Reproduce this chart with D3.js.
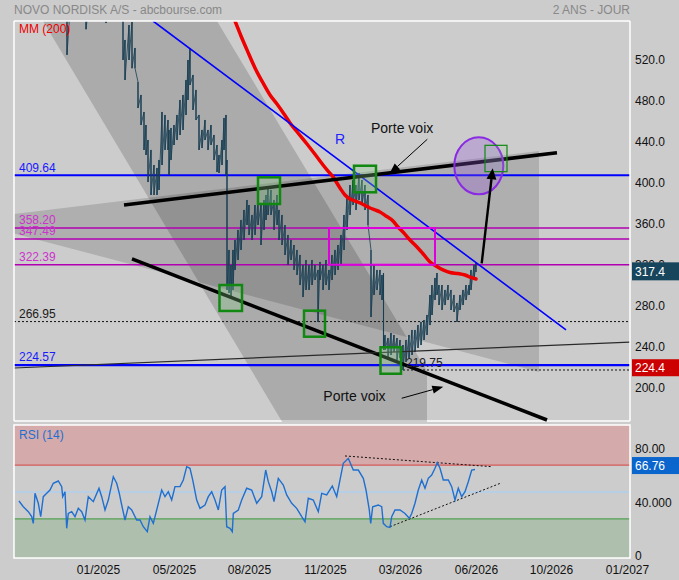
<!DOCTYPE html>
<html>
<head>
<meta charset="utf-8">
<script src="https://cdn.jsdelivr.net/npm/d3@7"></script>
<style>
  body { margin: 0; background: #cccccc; }
  svg { display: block; font-family: "Liberation Sans", Arial, sans-serif; }
</style>
</head>
<body>
<div id="chart"></div>
<script>
// ---- data (day index = trading session, prices in DKK) ----
const priceDay = [1,6,11,16,20,24,28,33,38,43, 48,53,57,62,67,72,76,81,86,89,
  92,96,100,104,107,109,111,115,118,121, 124,127,130,132,134,137,140,143,145,148,
  151,154,155,157,160,163,166,169,172,174, 176,179,182,185,188,191,194,197,200,203,
  205,208,210,212,213,215,217,219,221,224, 227,230,233,235,238,241,244,247,250,252,
  254,257,260,263,265,268,271,274,277,280, 283,286,289,292,295,298,301,304,306,309,
  312,315,318,321,324,327,330,333,336,339, 342,345,348,351,354,357,360,363,366,368,
  369.5,371,374,377,380,383,386,389,392,395, 398,401,404,407,410,413,416,418,421,423,
  425,428,431,434,437,440,443,446,449,452, 455,457,460,462];
const priceHigh = [600,598,594,588,596,592,598,603,607,610, 604,590,586,582,580,575,585,590,595,585,
  575,586,596,590,578,560,541.5,556,559,533.7, 500.6,487.9,471.3,458.6,444,434.3,419.6,416.7,424.5,471.3,
  468.4,463.5,453.8,455.7,458.6,468.4,483,487.9,502.5,522, 533.7,507.4,492.8,468.4,453.8,463.5,453.8,458.6,448.9,439.1,
  429.4,444,465.5,468.4,424.5,336.8,322.1,336.8,346.5,356.3, 366,375.8,385.5,380.6,370.9,380.6,385.5,380.6,385.5,390.4,
  398.2,395.3,385.5,390.4,375.8,370.9,361.1,351.4,346.5,341.6, 336.8,331.9,322.1,327,322.1,327,322.1,317.3,325.1,322.1,
  327,317.3,331.9,336.8,341.6,351.4,370.9,390.4,400.1,405, 400.1,411.8,405,400.1,390.4,336.8,322.1,317.3,317.3,312.4,
  314.3,253.9,250.9,255.8,253.9,250.9,249,244.1,249,253.9, 258.8,258.8,263.6,266.6,268.5,273.4,292.9,302.6,309.5,314.3,
  302.6,302.6,297.8,302.6,297.8,292.9,285.1,292.9,297.8,302.6, 302.6,317.3,322.1,324.1];
const priceLow = [585,582,578,572,580,576,582,588,592,594, 584,527,568,565,562,552,570,575,578,568,
  558,566,575,570,562,522,502.5,522,514,514, 475.2,458.6,434.3,429.4,403,390.4,390.4,390.4,395.3,419.6,
  434.3,434.3,409.9,424.5,439.1,444,448.9,453.8,468.4,483, 497.6,473.3,463.5,434.3,436.2,444,434.3,439.1,424.5,412.8,
  411.8,419.6,434.3,409.9,297.8,294.8,290.9,297.8,317.3,327, 336.8,346.5,361.1,351.4,346.5,351.4,361.1,341.6,356.3,366,
  370.9,370.9,356.3,361.1,346.5,341.6,331.9,322.1,327,317.3, 312.4,302.6,290.9,297.8,297.8,302.6,307.5,266.6,307.5,297.8,
  302.6,297.8,307.5,312.4,317.3,322.1,336.8,356.3,370.9,380.6, 375.8,385.5,380.6,375.8,361.1,271.4,292.9,297.8,292.9,288,
  239.3,239.3,231.5,234.4,237.3,229.5,231.5,219.75,227.6,231.5, 234.4,237.3,241.2,244.1,249,253.9,263.6,273.4,288,292.9,
  283.1,278.3,283.1,288,278.3,276.3,266.6,278.3,283.1,288, 292.9,297.8,307.5,315.3];

// moving average 200 sessions
const maDay = [206,214,221,227,233,241,249,256,263,270, 276,284,293,300,306,313,319,326,331,336,
  341,346,351,356,361,366,372,379,384,389, 396,403,410,416,422,429,436,444,451,457, 462];
const maValue = [580.3,575.6,560,545.4,531.8,514.2,499.6,487.9,479.1,469.4, 460.6,450.8,440.1,431.3,423.5,414.8,408,397.2,390.4,386.5,
  384.5,382.6,380.1,377.7,375.8,373.8,369.9,365,359.2,354.3, 346.5,339.7,331.9,325.1,321.2,317.3,314.8,313.8,312.4,310,
  308.5];

// RSI(14)
const rsiDay = [5,9.3,14.3,17.7,19.3,21,24.3,26.7,29.3,32.7, 36,39.3,44.3,47.7,48.7,51,52.7,54.3,57.7,61,
  64.3,67.7,71,74.3,79.3,85,87.7,91,94.3,99.3, 102.7,105.3,107.7,111,114.3,117.7,122.7,126,129.3,133.3,
  136,139.3,142.7,147.7,151,154.3,157.7,161,166,169.3, 172.7,176,178.7,182.7,186,191,194.3,197.7,201,204.3,
  207.7,211,212.7,216,218.3,219.3,224.3,227.7,232.7,237.7, 242.7,247.7,251.7,254.3,257.7,260,264.3,269.3,272.7,277.7,
  282.7,287.7,291,294.3,299.3,304.3,307.7,312.7,318.3,322.7, 326,329.3,334.3,339.3,344.3,349.3,352,355.3,356.7,358.7,
  364.3,367.7,369.3,372.7,376,377.7,381,386,391,395.3, 397.7,401,404.3,407.7,411,414.3,417.7,421,423.3,426,
  429.3,434.3,437.7,441,444.3,447.7,451,454.3,457.7,461];
const rsiValue = [43.3,39,35.3,31.6,26.6,49,41.6,31.6,46.5,49, 51.5,56.5,58.2,54,46.5,50.2,22.9,34,35.3,31.6,
  37.8,35.3,29.1,46.5,42.8,52.8,46.5,36.6,44,61.4, 56.5,49,40.3,29.1,39,36.6,29.1,29.1,24.1,20.4,
  31.6,26.6,36.6,51.5,46.5,50.2,44,54,54,59, 68.9,67.7,59,44,37.8,40.3,46.5,50.2,44,36.6,
  51.5,54,24.1,22.9,20.4,34,36.6,44,52.8,51.5, 41.6,46.5,66.4,57.7,50.2,42.8,60.2,55.2,47.8,41.6,
  37.8,31.6,27.8,45.3,44,35.3,49,47.8,54.5,46.5, 59,71.4,75.1,66.4,66.4,60.2,51.5,36.6,26.6,39,
  40.3,39,26.6,24.1,23.6,31.6,36.6,36.6,34,30.4, 34,41.6,51.5,59,52.8,60.2,62.7,67.7,71.9,67.7,
  59,59,54,44,52.8,46.5,50.2,57.7,66.4,66.76];

// horizontal levels
const levelValues = [409.64, 358.20, 347.49, 322.39, 266.95, 224.57];
const levelLabels = ["409.64", "358.20", "347.49", "322.39", "266.95", "224.57"];
const levelKinds = ["blue", "magenta", "magenta", "magenta", "dotted", "blue"];
const lowDay = 389, lowValue = 219.75;

// trend lines [day, price]
const trendNames = ["R", "porteHaut", "porteBas", "support"];
const trendFrom = [[139, 560.0], [110, 380.6], [118, 328.0], [0, 221.7]];
const trendTo = [[552, 258.8], [543, 431.6], [533, 171.0], [616, 247.0]];

// shaded zones: parallel channel and megaphone (porte voix)
const channelPts = [[0, 607.4], [0, 889.8], [413, 218.8], [413, -67.6]];
const wedgePts = [[-51, 366], [525, 433.3], [525, 217.8]];

// boxes [day0, day1, priceTop, priceBottom]
const greenBoxes = [[244, 266, 407.6, 381.6], [340, 362, 418.9, 393.0], [205.5, 228, 302.6, 277.3],
  [290, 311, 277.6, 252.2], [366.5, 387, 241.9, 216.1], [471, 493, 438.8, 413.1]];
const greenKinds = ["fill", "fill", "fill", "grey", "fill", "thin"];
const zoneBox = [315, 421, 358.20, 322.39];
const target = { day: 464.8, price: 418.8, dDays: 24.5, dPrice: 27.8 };

// arrows [day, price]
const arrowFrom = [[413.3, 444.7], [467.7, 323.8], [387.7, 192.2]];
const arrowTo = [[375.3, 410.9], [478.7, 416.4], [429.3, 203.5]];
const arrowKinds = ["thin", "bold", "thin"];

const noteTexts = ["Porte voix", "Porte voix", "R"];
const noteDay = [357, 309.3, 321];
const notePrice = [455.4, 194.7, 445.0];

// RSI trend lines [day, rsi]
const rsiTrendFrom = [[331, 76.9], [376, 24.1]];
const rsiTrendTo = [[477.7, 68.9], [487.7, 56.9]];
const rsiLevels = [70, 50, 30];

// axes
const priceTicks = [200, 240, 280, 320, 360, 400, 440, 480, 520];
const rsiTicks = [0, 40, 80];
const rsiTickLabels = ["0", "40.000", "80.00"];
const xTickDays = [84, 160, 235, 311, 386, 462, 537, 613];
const xTickLabels = ["01/2025", "05/2025", "08/2025", "11/2025", "03/2026", "06/2026", "10/2026", "01/2027"];

const lastPrice = 317.4, lastRed = 224.4, lastRsi = 66.76;

// ---- drawing ----
const W = 679, H = 580;
const L = 14, R = 630, T = 21, B = 421, RT = 425, RB = 558;

const x = d3.scaleLinear().domain([0, 616]).range([L, R]);
const y = d3.scaleLinear().domain([171, 560]).range([420, T]);
const yR = d3.scaleLinear().domain([0, 100]).range([559, RT]);

const svg = d3.select("#chart").append("svg").attr("width", W).attr("height", H);
svg.append("rect").attr("width", W).attr("height", H).attr("fill", "#cccccc");

const defs = svg.append("defs");
defs.append("clipPath").attr("id", "clipMain").append("rect")
  .attr("x", L).attr("y", T).attr("width", R - L).attr("height", B - T + 1);
defs.append("clipPath").attr("id", "clipRsi").append("rect")
  .attr("x", L).attr("y", RT).attr("width", R - L).attr("height", RB - RT);

// bottom border of main panel (covered by the channel)
svg.append("line").attr("x1", L).attr("x2", R).attr("y1", B).attr("y2", B)
  .attr("stroke", "#fff").attr("stroke-width", 1.5);

const g = svg.append("g").attr("clip-path", "url(#clipMain)");

const poly = pts => pts.map(p => x(p[0]) + "," + y(p[1])).join(" ");
g.append("polygon").attr("points", poly(channelPts)).attr("fill", "rgba(0,0,0,0.16)");
g.append("polygon").attr("points", poly(wedgePts)).attr("fill", "rgba(0,0,0,0.14)");

// horizontal levels
const levelColor = { blue: "#0000ff", magenta: "#b000b0", dotted: "#111" };
const labelColor = { blue: "#1a1aff", magenta: "#cc33cc", dotted: "#1a1a1a" };
levelValues.forEach((v, i) => {
  const k = levelKinds[i];
  g.append("line").attr("x1", L).attr("x2", R).attr("y1", y(v)).attr("y2", y(v))
    .attr("stroke", levelColor[k])
    .attr("stroke-width", k === "blue" ? 2.2 : (k === "magenta" ? 1.5 : 1))
    .attr("stroke-dasharray", k === "dotted" ? "2,2" : null);
  g.append("text").attr("x", L + 5).attr("y", y(v) - 3.7).attr("font-size", 12)
    .attr("fill", labelColor[k]).text(levelLabels[i]);
});
g.append("line").attr("x1", x(lowDay)).attr("x2", R).attr("y1", y(lowValue)).attr("y2", y(lowValue))
  .attr("stroke", "#111").attr("stroke-width", 1).attr("stroke-dasharray", "2,2");

// price bars
const zig = [];
priceDay.forEach((d, i) => { zig.push([d, priceHigh[i]]); zig.push([d, priceLow[i]]); });
g.append("path").datum(zig)
  .attr("d", d3.line().x(d => x(d[0])).y(d => y(d[1])))
  .attr("fill", "none").attr("stroke", "#163d52").attr("stroke-width", 0.8);
g.selectAll("line.bar").data(priceDay).join("line").attr("class", "bar")
  .attr("x1", d => x(d)).attr("x2", d => x(d))
  .attr("y1", (d, i) => y(priceHigh[i])).attr("y2", (d, i) => y(priceLow[i]))
  .attr("stroke", "#163d52").attr("stroke-width", 1.1);

// MM 200
g.append("path").datum(maDay.map((d, i) => [d, maValue[i]]))
  .attr("d", d3.line().x(d => x(d[0])).y(d => y(d[1])).curve(d3.curveMonotoneX))
  .attr("fill", "none").attr("stroke", "#ee0000").attr("stroke-width", 3.5)
  .attr("stroke-linecap", "round").attr("stroke-linejoin", "round");

// trend lines
const trendStyle = {
  R: ["#0000ff", 1.6], porteHaut: ["#000", 3.5], porteBas: ["#000", 3.5], support: ["#2a2a2a", 1.2]
};
trendNames.forEach((n, i) => {
  g.append("line")
    .attr("x1", x(trendFrom[i][0])).attr("y1", y(trendFrom[i][1]))
    .attr("x2", x(trendTo[i][0])).attr("y2", y(trendTo[i][1]))
    .attr("stroke", trendStyle[n][0]).attr("stroke-width", trendStyle[n][1]);
});

// zone rectangle
g.append("rect").attr("x", x(zoneBox[0])).attr("y", y(zoneBox[2]))
  .attr("width", x(zoneBox[1]) - x(zoneBox[0])).attr("height", y(zoneBox[3]) - y(zoneBox[2]))
  .attr("fill", "none").attr("stroke", "#dd00dd").attr("stroke-width", 2);

// target ellipse
g.append("ellipse").attr("cx", x(target.day)).attr("cy", y(target.price))
  .attr("rx", x(target.day + target.dDays) - x(target.day))
  .attr("ry", y(target.price - target.dPrice) - y(target.price))
  .attr("fill", "rgba(150,90,220,0.3)").attr("stroke", "#8a2be2").attr("stroke-width", 2);

// green boxes
greenBoxes.forEach((b, i) => {
  const k = greenKinds[i];
  g.append("rect").attr("x", x(b[0])).attr("y", y(b[2]))
    .attr("width", x(b[1]) - x(b[0])).attr("height", y(b[3]) - y(b[2]))
    .attr("fill", k === "grey" ? "rgba(0,0,0,0.07)" : (k === "thin" ? "rgba(140,210,140,0.15)" : "rgba(140,210,140,0.3)"))
    .attr("stroke", "#118811").attr("stroke-width", k === "thin" ? 1.2 : 2.5);
});

// arrows
arrowFrom.forEach((f, i) => {
  const bold = arrowKinds[i] === "bold";
  const lw = bold ? 2.4 : 1, hl = 11, hw = bold ? 10 : 8;
  const x1 = x(f[0]), y1 = y(f[1]), x2 = x(arrowTo[i][0]), y2 = y(arrowTo[i][1]);
  const a = Math.atan2(y2 - y1, x2 - x1);
  const bx = x2 - hl * Math.cos(a), by = y2 - hl * Math.sin(a);
  const px = -Math.sin(a) * hw / 2, py = Math.cos(a) * hw / 2;
  g.append("line").attr("x1", x1).attr("y1", y1).attr("x2", bx).attr("y2", by)
    .attr("stroke", "#000").attr("stroke-width", lw);
  g.append("polygon").attr("points", [[x2, y2], [bx + px, by + py], [bx - px, by - py]].map(p => p.join(",")).join(" "))
    .attr("fill", "#000");
});

// notes
noteTexts.forEach((t, i) => {
  g.append("text").attr("x", x(noteDay[i])).attr("y", y(notePrice[i])).attr("dy", "0.35em")
    .attr("font-size", 14).attr("fill", t === "R" ? "#2222ff" : "#111").text(t);
});
g.append("text").attr("x", x(lowDay) + 3).attr("y", y(lowValue) - 2.5).attr("font-size", 12)
  .attr("fill", "#222").text(lowValue.toFixed(2));

g.append("text").attr("x", L + 5).attr("y", 33).attr("font-size", 12).attr("fill", "#ee0000").text("MM (200)");

// main borders
[[L, T, R, T], [L, T, L, B], [R, T, R, B]].forEach(s => {
  svg.append("line").attr("x1", s[0]).attr("y1", s[1]).attr("x2", s[2]).attr("y2", s[3])
    .attr("stroke", "#fff").attr("stroke-width", 1.5);
});

// ---- RSI panel ----
const gr = svg.append("g").attr("clip-path", "url(#clipRsi)");
gr.append("rect").attr("x", L).attr("width", R - L).attr("y", yR(100)).attr("height", yR(70) - yR(100)).attr("fill", "#d4aaaa");
gr.append("rect").attr("x", L).attr("width", R - L).attr("y", yR(30)).attr("height", yR(0) - yR(30)).attr("fill", "#aebfad");
const rsiLevelColor = ["#d45a5a", "#a0d0ff", "#55a055"];
rsiLevels.forEach((v, i) => {
  gr.append("line").attr("x1", L).attr("x2", R).attr("y1", yR(v)).attr("y2", yR(v))
    .attr("stroke", rsiLevelColor[i]).attr("stroke-width", 1.2);
});
rsiTrendFrom.forEach((f, i) => {
  gr.append("line").attr("x1", x(f[0])).attr("y1", yR(f[1]))
    .attr("x2", x(rsiTrendTo[i][0])).attr("y2", yR(rsiTrendTo[i][1]))
    .attr("stroke", "#111").attr("stroke-width", 1).attr("stroke-dasharray", "2,2");
});
gr.append("path").datum(rsiDay.map((d, i) => [d, rsiValue[i]]))
  .attr("d", d3.line().x(d => x(d[0])).y(d => yR(d[1])))
  .attr("fill", "none").attr("stroke", "#1e6fd0").attr("stroke-width", 1.4);
gr.append("text").attr("x", L + 5).attr("y", 438.5).attr("font-size", 12).attr("fill", "#1e6fd0").text("RSI (14)");
svg.append("rect").attr("x", L).attr("y", RT).attr("width", R - L).attr("height", RB - RT)
  .attr("fill", "none").attr("stroke", "#fff").attr("stroke-width", 1.5);

// ---- axes ----
const ya = svg.append("g").attr("transform", "translate(" + R + ",0)")
  .call(d3.axisRight(y).tickValues(priceTicks).tickFormat(d3.format(".1f")).tickSize(0).tickPadding(5));
const yra = svg.append("g").attr("transform", "translate(" + R + ",0)")
  .call(d3.axisRight(yR).tickValues(rsiTicks).tickFormat((d, i) => rsiTickLabels[i]).tickSize(0).tickPadding(5));
const xa = svg.append("g").attr("transform", "translate(0," + RB + ")")
  .call(d3.axisBottom(x).tickValues(xTickDays).tickFormat((d, i) => xTickLabels[i]).tickSize(0).tickPadding(7));
[ya, yra, xa].forEach(a => {
  a.select(".domain").remove();
  a.selectAll("text").attr("font-size", 12).attr("fill", "#111")
    .attr("font-family", "Liberation Sans, Arial, sans-serif");
});
ya.selectAll("text").attr("dy", "0.12em");
yra.selectAll("text").attr("dy", "0.06em");

// value tags
function tag(cy, h, fill, label) {
  svg.append("rect").attr("x", R + 2).attr("y", cy - h / 2).attr("width", W - R - 2).attr("height", h).attr("fill", fill);
  svg.append("text").attr("x", R + 5).attr("y", cy).attr("dy", "0.35em").attr("font-size", 12)
    .attr("fill", "#fff").text(label);
}
tag(y(lastPrice) + 1.5, 18, "#17455c", lastPrice.toFixed(1));
tag(y(lastRed) + 2.5, 17, "#cc0000", lastRed.toFixed(1));
tag(yR(lastRsi) - 4, 17, "#0a66cc", lastRsi.toFixed(2));

// titles
svg.append("text").attr("x", L).attr("y", 13.5).attr("font-size", 12).attr("fill", "#888")
  .text("NOVO NORDISK A/S - abcbourse.com");
svg.append("text").attr("x", R).attr("y", 13.5).attr("font-size", 12).attr("fill", "#888")
  .attr("text-anchor", "end").text("2 ANS - JOUR");
</script>
</body>
</html>
